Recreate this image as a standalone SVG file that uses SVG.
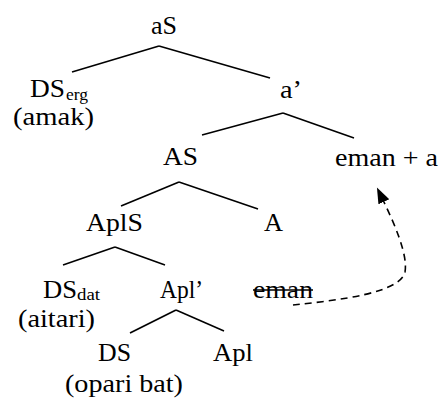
<svg xmlns="http://www.w3.org/2000/svg" width="446" height="399" viewBox="0 0 446 399">
<style>
  .t { font-size: 26px; fill: #000; }
  .sub { font-size: 16px; fill: #000; }
  .edge { stroke: #000; stroke-width: 1.6; fill: none; stroke-linecap: butt; }
  .move { stroke: #000; stroke-width: 1.6; fill: none; stroke-dasharray: 7 5; }
</style>
<defs>
  <marker id="arrow" markerUnits="userSpaceOnUse" markerWidth="18" markerHeight="14" refX="2" refY="6" orient="auto">
    <path d="M0,0 L16,6 L0,12 z" fill="#000"/>
  </marker>
</defs>
<rect width="446" height="399" fill="#fff"/>
<g id="connectors">
  <line class="edge" x1="159" y1="46" x2="72" y2="72"/>
  <line class="edge" x1="159" y1="46" x2="270" y2="78"/>
  <line class="edge" x1="283" y1="113" x2="202" y2="135"/>
  <line class="edge" x1="283" y1="113" x2="354" y2="138"/>
  <line class="edge" x1="179" y1="182" x2="121" y2="206"/>
  <line class="edge" x1="179" y1="182" x2="258" y2="209"/>
  <line class="edge" x1="115" y1="247" x2="63" y2="265"/>
  <line class="edge" x1="115" y1="247" x2="165" y2="265"/>
  <line class="edge" x1="176" y1="310" x2="130" y2="333"/>
  <line class="edge" x1="176" y1="310" x2="224" y2="331"/>
  <path class="move" d="M293,305 C340,300 400,293 405,272 C408,255 395,225 383,200" marker-end="url(#arrow)"/>
</g>
<g id="aS"><text class="t" font-family="Liberation Serif" x="151" y="34" textLength="26" lengthAdjust="spacingAndGlyphs">aS</text></g>
<g id="DSerg">
  <text class="t" font-family="Liberation Serif" x="30" y="97" textLength="35" lengthAdjust="spacingAndGlyphs">DS</text>
  <text class="sub" font-family="Liberation Serif" x="66" y="100" textLength="22" lengthAdjust="spacingAndGlyphs">erg</text>
  <text class="t" font-family="Liberation Serif" x="13" y="125" textLength="81" lengthAdjust="spacingAndGlyphs">(amak)</text>
</g>
<g id="abar"><text class="t" font-family="Liberation Serif" x="280" y="98" textLength="22" lengthAdjust="spacingAndGlyphs">a’</text></g>
<g id="AS"><text class="t" font-family="Liberation Serif" x="163" y="165" textLength="35" lengthAdjust="spacingAndGlyphs">AS</text></g>
<g id="eman-a"><text class="t" font-family="Liberation Serif" x="335" y="166" textLength="103" lengthAdjust="spacingAndGlyphs">eman + a</text></g>
<g id="AplS"><text class="t" font-family="Liberation Serif" x="86" y="231" textLength="57" lengthAdjust="spacingAndGlyphs">AplS</text></g>
<g id="A"><text class="t" font-family="Liberation Serif" x="264" y="231" textLength="19" lengthAdjust="spacingAndGlyphs">A</text></g>
<g id="DSdat">
  <text class="t" font-family="Liberation Serif" x="43" y="298" textLength="34" lengthAdjust="spacingAndGlyphs">DS</text>
  <text class="sub" font-family="Liberation Serif" x="77" y="300" textLength="23" lengthAdjust="spacingAndGlyphs">dat</text>
  <text class="t" font-family="Liberation Serif" x="18" y="327" textLength="77" lengthAdjust="spacingAndGlyphs">(aitari)</text>
</g>
<g id="Aplbar"><text class="t" font-family="Liberation Serif" x="160" y="298" textLength="43" lengthAdjust="spacingAndGlyphs">Apl’</text></g>
<g id="eman-trace">
  <text class="t" font-family="Liberation Serif" x="253" y="298" textLength="60" lengthAdjust="spacingAndGlyphs">eman</text>
  <line x1="253" y1="290" x2="313" y2="290" stroke="#000" stroke-width="1.4"/>
</g>
<g id="DS">
  <text class="t" font-family="Liberation Serif" x="98" y="361" textLength="33" lengthAdjust="spacingAndGlyphs">DS</text>
  <text class="t" font-family="Liberation Serif" x="65" y="392" textLength="118" lengthAdjust="spacingAndGlyphs">(opari bat)</text>
</g>
<g id="Apl"><text class="t" font-family="Liberation Serif" x="213" y="361" textLength="40" lengthAdjust="spacingAndGlyphs">Apl</text></g>
</svg>
